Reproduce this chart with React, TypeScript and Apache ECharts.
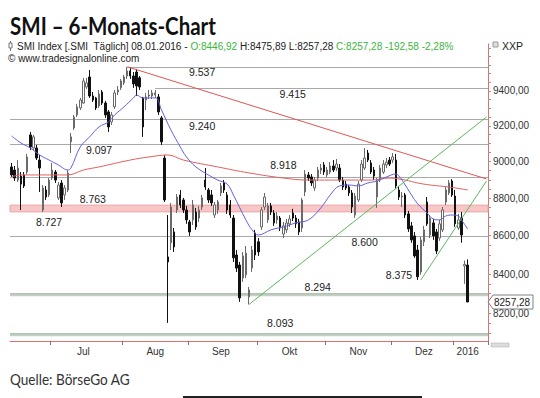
import React, { useEffect, useRef } from 'react';
import * as echarts from 'echarts';

// ---- trading days (SIX Swiss Exchange) ----
const jun2015 = [12, 15, 16, 17, 18, 19, 22, 23, 24, 25, 26, 29, 30];
const jul2015 = [1, 2, 3, 6, 7, 8, 9, 10, 13, 14, 15, 16, 17, 20, 21, 22, 23, 24, 27, 28, 29, 30, 31];
const aug2015 = [3, 4, 5, 6, 7, 10, 11, 12, 13, 14, 17, 18, 19, 20, 21, 24, 25, 26, 27, 28, 31];
const sep2015 = [1, 2, 3, 4, 7, 8, 9, 10, 11, 14, 15, 16, 17, 18, 21, 22, 23, 24, 25, 28, 29, 30];
const oct2015 = [1, 2, 5, 6, 7, 8, 9, 12, 13, 14, 15, 16, 19, 20, 21, 22, 23, 26, 27, 28, 29, 30];
const nov2015 = [2, 3, 4, 5, 6, 9, 10, 11, 12, 13, 16, 17, 18, 19, 20, 23, 24, 25, 26, 27, 30];
const dec2015 = [1, 2, 3, 4, 7, 8, 9, 10, 11, 14, 15, 16, 17, 18, 21, 22, 23, 28, 29, 30];
const jan2016 = [4, 5, 6, 7, 8];
const monthDays: [string, number[]][] = [
  ['2015-06', jun2015], ['2015-07', jul2015], ['2015-08', aug2015], ['2015-09', sep2015],
  ['2015-10', oct2015], ['2015-11', nov2015], ['2015-12', dec2015], ['2016-01', jan2016],
];
const emptySlotsRight = 6;

// ---- daily candles: [open, close, low, high] ----
const candles: number[][] = [
  [8971, 8927, 8916, 8993], [8954, 8910, 8894, 8976], [8899, 8965, 8888, 9009], [8921, 8877, 8737, 8943],
  [8927, 8867, 8856, 8943], [8943, 9026, 8932, 9043], [9149, 9082, 9065, 9166], [9076, 9138, 9065, 9149],
  [9076, 9020, 9009, 9093], [9009, 8965, 8834, 9037], [8737, 8856, 8726, 8872], [8845, 8807, 8791, 8867],
  [8818, 8899, 8807, 8910], [8910, 8954, 8899, 8993], [8943, 8899, 8883, 8954], [8802, 8872, 8791, 8888],
  [8883, 8775, 8753, 8899], [8818, 8856, 8791, 8872], [8845, 8938, 8834, 8954], [9110, 9138, 9048, 9160],
  [9188, 9250, 9177, 9262], [9262, 9308, 9250, 9325], [9302, 9347, 9290, 9359], [9330, 9457, 9325, 9475],
  [9422, 9446, 9411, 9475], [9480, 9370, 9359, 9521], [9370, 9347, 9336, 9393], [9359, 9302, 9290, 9365],
  [9313, 9382, 9302, 9405], [9393, 9330, 9319, 9405], [9330, 9262, 9245, 9342], [9279, 9194, 9166, 9290],
  [9222, 9262, 9205, 9279], [9308, 9388, 9296, 9405], [9393, 9405, 9376, 9428], [9417, 9457, 9405, 9469],
  [9446, 9480, 9434, 9492], [9486, 9515, 9469, 9538], [9515, 9486, 9469, 9533], [9486, 9440, 9417, 9509],
  [9509, 9428, 9370, 9527], [9475, 9422, 9405, 9486], [9359, 9194, 9138, 9365], [9347, 9365, 9290, 9388],
  [9370, 9376, 9353, 9405], [9370, 9388, 9353, 9405], [9376, 9388, 9359, 9405], [9365, 9279, 9262, 9382],
  [9245, 9110, 9093, 9256], [9020, 8791, 8780, 9037], [8489, 8463, 8152, 8710], [8563, 8753, 8525, 8775],
  [8620, 8541, 8515, 8641], [8737, 8807, 8721, 8823], [8818, 8764, 8748, 8845], [8791, 8737, 8721, 8802],
  [8737, 8684, 8663, 8759], [8673, 8620, 8599, 8684], [8684, 8764, 8657, 8791], [8726, 8647, 8631, 8748],
  [8694, 8737, 8673, 8759], [8753, 8802, 8737, 8818], [8899, 8861, 8845, 8965], [8845, 8791, 8775, 8856],
  [8818, 8775, 8759, 8845], [8710, 8764, 8694, 8780], [8737, 8780, 8716, 8791], [8829, 8867, 8812, 8883],
  [8883, 8845, 8829, 8899], [8818, 8737, 8716, 8834], [8764, 8710, 8694, 8791], [8694, 8484, 8463, 8710],
  [8499, 8431, 8411, 8525], [8447, 8278, 8258, 8463], [8380, 8494, 8360, 8515], [8396, 8509, 8380, 8546],
  [8283, 8319, 8245, 8334], [8431, 8525, 8411, 8546], [8615, 8499, 8473, 8631], [8568, 8515, 8494, 8588],
  [8647, 8737, 8631, 8753], [8753, 8807, 8737, 8829], [8684, 8759, 8668, 8775], [8759, 8726, 8710, 8775],
  [8721, 8668, 8652, 8737], [8684, 8705, 8663, 8726], [8694, 8641, 8625, 8705], [8609, 8652, 8588, 8673],
  [8631, 8668, 8615, 8689], [8663, 8689, 8647, 8710], [8721, 8694, 8678, 8743], [8694, 8663, 8641, 8710],
  [8673, 8620, 8604, 8689], [8641, 8791, 8620, 8802], [8834, 8932, 8812, 8954], [8927, 8910, 8894, 8943],
  [8916, 8883, 8867, 8932], [8856, 8899, 8840, 8916], [8910, 8954, 8894, 8971], [8954, 8965, 8932, 8987],
  [8982, 8943, 8927, 8998], [8927, 8954, 8916, 8971], [8943, 8976, 8932, 8998], [8976, 8954, 8943, 9009],
  [8965, 8987, 8949, 9015], [8965, 8899, 8888, 8987], [8899, 8861, 8845, 8916], [8877, 8856, 8845, 8894],
  [8861, 8829, 8812, 8872], [8829, 8753, 8721, 8845], [8710, 8812, 8694, 8829], [8791, 8877, 8780, 8894],
  [8899, 8987, 8888, 9009], [8965, 9020, 8954, 9076], [9048, 9009, 8998, 9065], [8993, 8943, 8932, 9009],
  [8954, 8921, 8899, 8971], [8807, 8894, 8748, 8910], [8899, 8965, 8888, 8982], [8943, 8987, 8932, 9009],
  [8982, 8998, 8965, 9020], [9009, 8987, 8976, 9026], [9009, 9026, 8993, 9048], [9009, 8867, 8851, 9043],
  [8845, 8807, 8791, 8867], [8807, 8812, 8753, 8834], [8818, 8710, 8694, 8829], [8716, 8636, 8620, 8732],
  [8652, 8578, 8563, 8673], [8599, 8494, 8484, 8620], [8525, 8386, 8370, 8552], [8411, 8578, 8396, 8594],
  [8568, 8631, 8546, 8652], [8780, 8663, 8652, 8807], [8604, 8694, 8588, 8710], [8668, 8599, 8578, 8689],
  [8620, 8520, 8504, 8636], [8588, 8663, 8573, 8684], [8631, 8737, 8620, 8753], [8780, 8845, 8764, 8861],
  [8829, 8883, 8818, 8899], [8894, 8818, 8807, 8904], [8812, 8663, 8647, 8845], [8641, 8684, 8631, 8716],
  [8694, 8604, 8563, 8726], [8442, 8449.86, 8350, 8470], [8446.92, 8257.28, 8257.28, 8475.89],
];

// ---- moving averages: [day index, value] ----
const ma20: number[][] = [
  [0, 9143], [3, 9104], [6, 9076], [9, 9037], [12, 9009], [15, 8982], [18, 8954], [19, 8965], [22, 9082],
  [25, 9138], [28, 9194], [31, 9222], [33, 9262], [36, 9308], [39, 9359], [40, 9376], [42, 9359], [46, 9359],
  [48, 9290], [51, 9177], [54, 9082], [56, 9026], [59, 8971], [63, 8927], [66, 8899], [69, 8877], [71, 8818],
  [75, 8684], [77, 8631], [79, 8604], [83, 8631], [87, 8647], [91, 8668], [95, 8684], [99, 8748], [102, 8818],
  [105, 8867], [108, 8872], [111, 8867], [114, 8883], [117, 8894], [120, 8916], [123, 8932], [124, 8921],
  [126, 8872], [128, 8818], [130, 8770], [133, 8721], [135, 8689], [137, 8684], [139, 8705], [141, 8710],
  [143, 8705], [144, 8684], [146, 8636],
];
const ma200: number[][] = [
  [0, 8916], [3, 8927], [9, 8927], [18, 8927], [23, 8954], [28, 8971], [38, 9009], [44, 9026], [50, 9037],
  [55, 9009], [66, 8971], [76, 8938], [87, 8910], [95, 8899], [102, 8899], [115, 8899], [121, 8910],
  [126, 8899], [130, 8883], [134, 8872], [140, 8861], [146, 8845],
];

// ---- horizontal levels ----
const resistanceLevels = [9537, 9415, 9240, 9097, 8918, 8600];
const majorSupportLevels = [8294, 8093];
const supportBand = [8727, 8763];
const levelStartDate: Record<number, string> = { 9537: '2015-08-04', 9415: '2015-08-17' };

// ---- trendlines: [start date, start value, value at right edge] ----
const downTrend: [string, number, number] = ['2015-08-04', 9540, 8905];
const upTrend: [string, number, number] = ['2015-09-28', 8245, 9250];
const shortUpTrend: [string, number, number] = ['2015-12-14', 8370, 8893];

// ---- axis ticks ----
const yLabelValues = [8200, 8400, 8600, 8800, 9000, 9200, 9400];
const yTickValues = Array.from({ length: 32 }, (_, k) => 8100 + k * 50);
const monthLabels: [string, string][] = [
  ['2015-07', 'Jul'], ['2015-08', 'Aug'], ['2015-09', 'Sep'], ['2015-10', 'Okt'],
  ['2015-11', 'Nov'], ['2015-12', 'Dez'], ['2016-01', '2016'],
];
const prevClose = 8449.86;

// ---- annotation layout (level, label anchor date, vertical pixel offset) ----
const labelLayout: [number, string, number][] = [
  [9537, '2015-09-07', 5], [9415, '2015-10-16', 6], [9240, '2015-09-07', 7], [9097, '2015-07-22', 6],
  [8918, '2015-10-13', -12], [8763, '2015-07-20', -6], [8727, '2015-06-30', 10], [8600, '2015-11-18', 6],
  [8375, '2015-12-03', -4], [8294, '2015-10-28', -8], [8093, '2015-10-12', -12],
];

const tradingDays = monthDays.flatMap(([m, ds]) => ds.map((d) => `${m}-${String(d).padStart(2, '0')}`));
const categories = [...tradingDays, ...Array.from({ length: emptySlotsRight }, (_, k) => `+${k + 1}`)];
const lastIdx = categories.length - 1;
const dayIdx = (d: string) => tradingDays.indexOf(d);

const labelAt = new Map<number, string>();
monthLabels.forEach(([m, text]) => {
  let idx = tradingDays.findIndex((d) => d.startsWith(m) && Number(d.slice(8)) >= 15);
  if (idx < 0) idx = tradingDays.map((d) => d.startsWith(m)).lastIndexOf(true);
  labelAt.set(idx, text);
});
const tickAt = new Set(monthDays.slice(1).map(([m]) => tradingDays.findIndex((d) => d.startsWith(m))));

const de2 = (v: number) => v.toFixed(2).replace('.', ',');
const last = candles[candles.length - 1];
const change = last[1] - prevClose;
const changePct = (change / prevClose) * 100;

const FONT = '"Liberation Sans", Arial, sans-serif';

function trendSeries(t: [string, number, number], color: string) {
  return {
    type: 'line',
    data: [[dayIdx(t[0]), t[1]], [lastIdx, t[2]]],
    showSymbol: false,
    silent: true,
    lineStyle: { color, width: 1 },
    z: 4,
  };
}

const option: any = {
  animation: false,
  backgroundColor: '#ffffff',
  textStyle: { fontFamily: FONT },
  grid: { left: 10, right: 52, top: 44, bottom: 57 },
  xAxis: {
    type: 'category',
    data: categories,
    boundaryGap: true,
    axisLine: { lineStyle: { color: '#e07070', width: 1 } },
    axisTick: { show: true, interval: (i: number) => tickAt.has(i), length: 4, lineStyle: { color: '#777' } },
    axisLabel: {
      interval: (i: number) => labelAt.has(i),
      formatter: (_v: string, i: number) => labelAt.get(i) ?? '',
      color: '#333',
      fontSize: 10,
      fontFamily: FONT,
      margin: 5,
    },
    splitLine: { show: false },
  },
  yAxis: {
    type: 'log',
    logBase: 10,
    position: 'right',
    min: 8062,
    max: 9674,
    axisLine: { show: true, lineStyle: { color: '#e07070', width: 1 } },
    axisTick: { show: true, customValues: yTickValues, length: 3, lineStyle: { color: '#999' } },
    axisLabel: {
      customValues: yLabelValues,
      formatter: (v: number) => de2(v),
      color: '#333',
      fontSize: 10,
      fontFamily: FONT,
      margin: 5,
    },
    splitLine: { show: false },
  },
  series: [
    {
      type: 'custom',
      silent: true,
      clip: false,
      z: 1,
      data: [[0, 9000]],
      renderItem: (params: any, api: any) => {
        const cs = params.coordSys;
        const left = cs.x;
        const right = cs.x + cs.width;
        const yOf = (v: number) => api.coord([0, v])[1];
        const xOf = (i: number) => api.coord([i, 9000])[0];
        const children: any[] = [];
        const yb1 = yOf(supportBand[1]);
        const yb0 = yOf(supportBand[0]);
        children.push({
          type: 'rect',
          shape: { x: left, y: yb1, width: cs.width, height: yb0 - yb1 },
          style: { fill: '#f8c6c6', stroke: '#e9a3a3', lineWidth: 1 },
        });
        resistanceLevels.forEach((v) => {
          const y = Math.round(yOf(v)) + 0.5;
          const sd = levelStartDate[v];
          const x1 = sd ? xOf(dayIdx(sd)) : left;
          children.push({ type: 'line', shape: { x1, y1: y, x2: right, y2: y }, style: { stroke: '#a9a9a9', lineWidth: 1 } });
        });
        majorSupportLevels.forEach((v) => {
          const y = yOf(v);
          children.push({ type: 'line', shape: { x1: left, y1: y, x2: right, y2: y }, style: { stroke: '#c3d1c3', lineWidth: 3 } });
          children.push({ type: 'line', shape: { x1: left, y1: y - 1, x2: right, y2: y - 1 }, style: { stroke: '#a9b9a9', lineWidth: 1 } });
        });
        labelLayout.forEach(([v, d, dy]) => {
          children.push({
            type: 'text',
            x: xOf(dayIdx(d)),
            y: yOf(v) + dy,
            style: {
              text: (v / 1000).toFixed(3),
              fill: '#222',
              font: `10.5px ${FONT}`,
              align: 'center',
              verticalAlign: 'middle',
            },
          });
        });
        const yp = yOf(last[1]);
        children.push({
          type: 'polygon',
          shape: { points: [[right, yp], [right + 5, yp - 7], [right + 45, yp - 7], [right + 45, yp + 7], [right + 5, yp + 7]] },
          style: { fill: '#ffffff', stroke: '#808080', lineWidth: 1 },
        });
        children.push({
          type: 'text',
          x: right + 6,
          y: yp,
          style: { text: de2(last[1]), fill: '#222', font: `10px ${FONT}`, align: 'left', verticalAlign: 'middle' },
        });
        return { type: 'group', children };
      },
    },
    {
      type: 'candlestick',
      data: candles,
      barWidth: '62%',
      silent: true,
      z: 2,
      itemStyle: { color: '#ffffff', color0: '#111111', borderColor: '#6a6a6a', borderColor0: '#111111', borderWidth: 1 },
    },
    {
      type: 'line',
      data: ma200,
      smooth: 0.4,
      showSymbol: false,
      silent: true,
      lineStyle: { color: '#e06060', width: 1 },
      z: 3,
    },
    {
      type: 'line',
      data: ma20,
      smooth: 0.4,
      showSymbol: false,
      silent: true,
      lineStyle: { color: '#6060e0', width: 1 },
      z: 3,
    },
    trendSeries(downTrend, '#e05555'),
    trendSeries(upTrend, '#5cb85c'),
    trendSeries(shortUpTrend, '#5cb85c'),
  ],
  graphic: [
    {
      type: 'text',
      x: 10,
      y: 26,
      scaleX: 0.855,
      style: { text: 'SMI – 6-Monats-Chart', font: 'bold 24px Lato, sans-serif', fill: '#111', verticalAlign: 'middle' },
    },
    { type: 'line', shape: { x1: 10.5, y1: 41, x2: 10.5, y2: 51 }, style: { stroke: '#777', lineWidth: 1 } },
    { type: 'rect', shape: { x: 9, y: 43, width: 3, height: 5 }, style: { fill: '#fff', stroke: '#777', lineWidth: 1 } },
    {
      type: 'text',
      x: 17,
      y: 46,
      style: {
        text:
          `{k|SMI Index [.SMI  Täglich] 08.01.2016 - }{g|O:${de2(last[0])}}{k| H:${de2(last[3])} L:${de2(last[2])} }` +
          `{g|C:${de2(last[1])} ${de2(change)} ${de2(changePct)}%}`,
        verticalAlign: 'middle',
        rich: {
          k: { fill: '#222', fontSize: 10, fontFamily: FONT },
          g: { fill: '#3cb43c', fontSize: 10, fontFamily: FONT },
        },
      },
    },
    { type: 'text', x: 8, y: 58, style: { text: '© www.tradesignalonline.com', font: `10px ${FONT}`, fill: '#222', verticalAlign: 'middle' } },
    { type: 'rect', shape: { x: 493, y: 42, width: 5, height: 5 }, style: { fill: '#ddd', stroke: '#999', lineWidth: 1 } },
    { type: 'text', x: 502, y: 46, style: { text: 'XXP', font: `10.5px ${FONT}`, fill: '#222', verticalAlign: 'middle' } },
    { type: 'rect', shape: { x: 491, y: 343, width: 18, height: 4 }, style: { fill: '#ddd', stroke: '#aaa', lineWidth: 0.5 } },
    { type: 'text', x: 10, y: 379, scaleX: 0.85, style: { text: 'Quelle: BörseGo AG', font: '16px Lato, sans-serif', fill: '#333', verticalAlign: 'middle' } },
    { type: 'rect', shape: { x: 183, y: 396, width: 239, height: 2 }, style: { fill: '#222' } },
  ],
};

export default function App() {
  const ref = useRef<HTMLDivElement>(null);
  useEffect(() => {
    const chart = echarts.init(ref.current as HTMLDivElement, undefined, { renderer: 'svg' });
    chart.setOption(option);
    return () => chart.dispose();
  }, []);
  return (
    <div
      ref={ref}
      style={{ position: 'absolute', left: 0, top: 0, width: 540, height: 398, background: '#fff' }}
    />
  );
}
